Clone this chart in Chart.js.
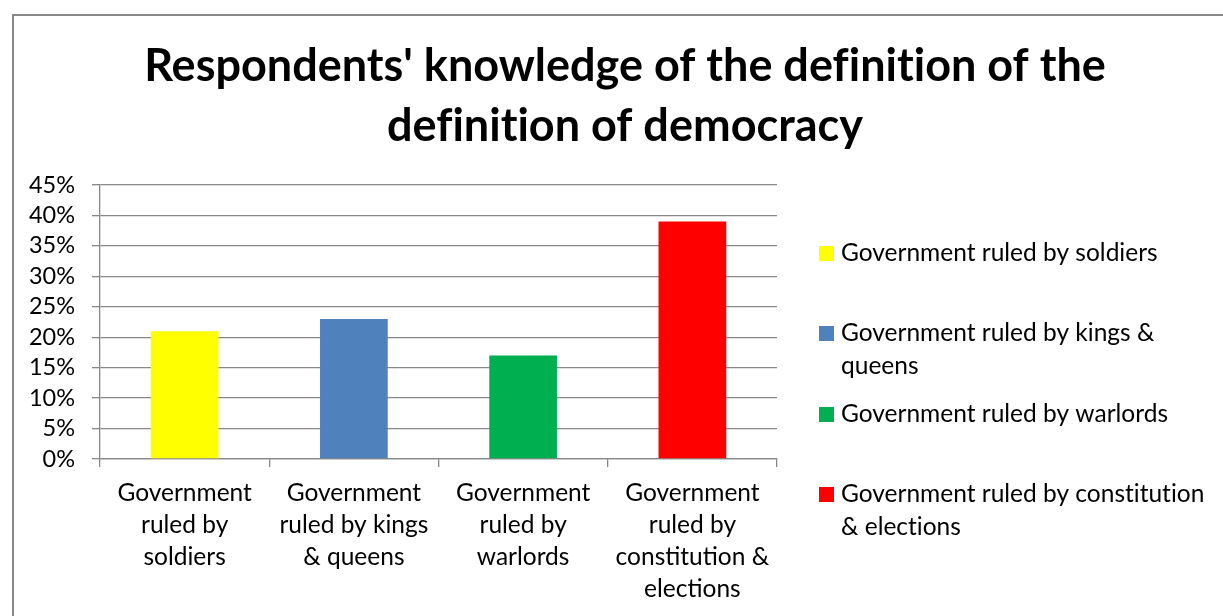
<!DOCTYPE html>
<html>
<head>
<meta charset="utf-8">
<script src="https://cdn.jsdelivr.net/npm/chart.js@4"></script>
<style>
  html, body { margin: 0; padding: 0; background: #fff; }
  #wrap { width: 1223px; height: 616px; }
</style>
</head>
<body>
<div id="wrap"><canvas id="grafico" width="1223" height="616"></canvas></div>
<script>
const tituloLinhas = ["Respondents' knowledge of the definition of the", "definition of democracy"];
const categorias = [
  ["Government", "ruled by", "soldiers"],
  ["Government", "ruled by kings", "& queens"],
  ["Government", "ruled by", "warlords"],
  ["Government", "ruled by", "constitution &", "elections"]
];
const legendaTextos = [
  ["Government ruled by soldiers"],
  ["Government ruled by kings &", "queens"],
  ["Government ruled by warlords"],
  ["Government ruled by constitution", "& elections"]
];
const percentagens = [21, 23, 17, 39];
const cores = ["#FFFF00", "#4F81BD", "#00B050", "#FF0000"];

const FONTE = "Lato, 'Liberation Sans', sans-serif";
const CINZA = "#888888";

// moldura, titulo e legenda desenhados a mao
const extras = {
  id: "extras",
  beforeDraw(chart) {
    const ctx = chart.ctx;
    ctx.save();
    ctx.fillStyle = "#fff";
    ctx.fillRect(0, 0, chart.width, chart.height);
    ctx.strokeStyle = CINZA;
    ctx.lineWidth = 2;
    ctx.strokeRect(13, 15, 1215, 700);
    ctx.restore();
  },
  afterDraw(chart) {
    const ctx = chart.ctx;
    ctx.save();
    ctx.textRendering = "optimizeSpeed"; // sem ligaduras "fi"
    ctx.fillStyle = "#000";
    ctx.textAlign = "center";
    ctx.textBaseline = "alphabetic";
    ctx.font = "bold 45px " + FONTE;
    tituloLinhas.forEach((linha, i) => {
      ctx.fillText(linha, 625, 81 + i * 60);
    });

    const cor = chart.data.datasets[0].backgroundColor;
    const topos = [253, 333, 414, 494];
    ctx.font = "24.5px " + FONTE;
    ctx.textAlign = "left";
    ctx.textBaseline = "middle";
    legendaTextos.forEach((linhas, i) => {
      ctx.fillStyle = cor[i];
      ctx.fillRect(819, topos[i] - 7, 15, 15);
      ctx.fillStyle = "#000";
      linhas.forEach((t, j) => ctx.fillText(t, 841, topos[i] + j * 33));
    });
    ctx.restore();
  }
};

new Chart(document.getElementById("grafico"), {
  type: "bar",
  data: {
    labels: categorias,
    datasets: [{
      data: percentagens,
      backgroundColor: cores,
      categoryPercentage: 1,
      barPercentage: 0.4
    }]
  },
  options: {
    responsive: false,
    animation: false,
    layout: { padding: { top: 185, right: 446, left: 0, bottom: 0 } },
    plugins: {
      legend: { display: false },
      title: { display: false },
      tooltip: { enabled: false }
    },
    scales: {
      x: {
        afterFit: s => { s.height = 157; },
        grid: { drawOnChartArea: false, tickLength: 8, color: CINZA, lineWidth: 1.3 },
        border: { color: CINZA, width: 1.3 },
        ticks: { color: "#000", padding: 10, maxRotation: 0, autoSkip: false,
          font: { family: FONTE, size: 24.5, lineHeight: 1.31 } }
      },
      y: {
        min: 0,
        max: 45,
        afterFit: s => { s.width = 100; },
        grid: { color: CINZA, lineWidth: 1.3, tickLength: 8 },
        border: { color: CINZA, width: 1.3 },
        ticks: { stepSize: 5, color: "#000", padding: 17, autoSkip: false,
          callback: v => v + "%",
          font: { family: FONTE, size: 23.5 } }
      }
    }
  },
  plugins: [extras]
});
</script>
</body>
</html>
